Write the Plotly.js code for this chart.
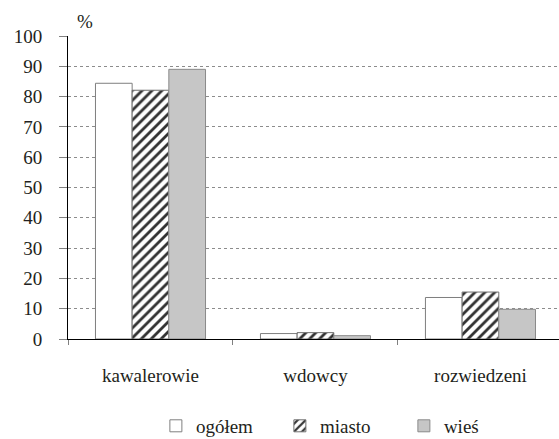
<!DOCTYPE html>
<html>
<head>
<meta charset="utf-8">
<script src="https://cdn.plot.ly/plotly-3.0.1.min.js"></script>
<style>html,body{margin:0;padding:0;overflow:hidden;background:#fff}</style>
</head>
<body>
<div id="chart" style="width:559px;height:439px"></div>
<script>
var categories = ["kawalerowie", "wdowcy", "rozwiedzeni"];
var seriesNames = ["ogółem", "miasto", "wieś"];
var ogolem = [84.4, 1.8, 13.7];
var miasto = [82.1, 2.1, 15.5];
var wies = [89.0, 1.1, 9.8];
var yTicks = [0, 10, 20, 30, 40, 50, 60, 70, 80, 90, 100];

// Liberation Serif stays serif in this renderer only up to 19 px.
var font = "Liberation Serif";
var textColor = "#231f20";

var traces = [
  {type: "bar", name: seriesNames[0], x: categories, y: ogolem,
   marker: {color: "#ffffff", line: {color: "#7f7f7f", width: 1}}},
  {type: "bar", name: seriesNames[1], x: categories, y: miasto,
   marker: {color: "#ffffff", line: {color: "#6f6f6f", width: 1},
            pattern: {shape: "/", fgcolor: "#333333", bgcolor: "#ffffff", size: 7, solidity: 0.4}}},
  {type: "bar", name: seriesNames[2], x: categories, y: wies,
   marker: {color: "#c6c6c6", line: {color: "#8a8a8a", width: 1}}}
];

var layout = {
  width: 559, height: 439,
  margin: {l: 68, r: 0, t: 36, b: 100, autoexpand: false},
  paper_bgcolor: "#ffffff", plot_bgcolor: "#ffffff",
  font: {family: font, size: 19, color: textColor},
  barmode: "group", bargap: 0.333, bargroupgap: 0,
  showlegend: true,
  legend: {orientation: "h", x: 0.179, xanchor: "left", y: -0.287, yanchor: "middle",
           font: {family: font, size: 19, color: textColor},
           traceorder: "normal", entrywidth: 79, entrywidthmode: "pixels",
           itemclick: false, itemdoubleclick: false},
  xaxis: {type: "category", range: [-0.5, 2.476], fixedrange: true, automargin: false,
          showline: true, linecolor: "#000000", linewidth: 1,
          ticks: "outside", tickson: "boundaries", ticklen: 5, tickcolor: "#808080", tickwidth: 1,
          showgrid: false, ticklabelstandoff: 19,
          tickfont: {family: font, size: 19, color: textColor}},
  yaxis: {range: [0, 100], tickvals: yTicks, fixedrange: true, automargin: false,
          showline: true, linecolor: "#000000", linewidth: 1,
          ticks: "outside", ticklen: 8, tickcolor: "#808080", tickwidth: 1,
          showgrid: true, gridcolor: "#8c8c8c", griddash: "dot", gridwidth: 1,
          zeroline: false, ticklabelstandoff: 13,
          tickfont: {family: font, size: 19, color: textColor}},
  annotations: [
    {text: "%", xref: "paper", yref: "paper", x: 0.0346, y: 1.0495,
     xanchor: "center", yanchor: "middle", showarrow: false,
     font: {family: font, size: 19, color: textColor}}
  ]
};

Plotly.newPlot("chart", traces, layout, {displayModeBar: false, staticPlot: true});
</script>
</body>
</html>
